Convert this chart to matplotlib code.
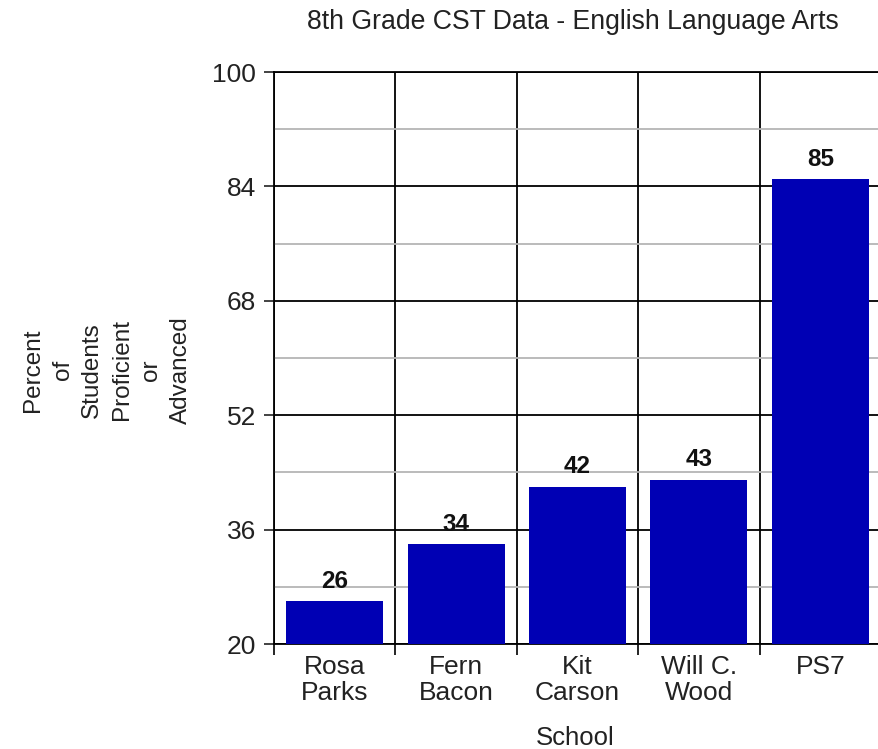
import numpy as np
import matplotlib.pyplot as plt
from matplotlib.ticker import FixedLocator, NullFormatter

# data
schools = ["Rosa\nParks", "Fern\nBacon", "Kit\nCarson", "Will C.\nWood", "PS7"]
percent = [26, 34, 42, 43, 85]
y_major = [20, 36, 52, 68, 84, 100]
y_minor = [28, 44, 60, 76, 92]

plt.rcParams['font.family'] = ['Liberation Sans', 'DejaVu Sans']

fig = plt.figure(figsize=(8.79, 7.49), dpi=100)
ax = fig.add_axes([274 / 879, 1 - 644 / 749, (881 - 274) / 879, (644 - 72) / 749])

x = np.arange(len(schools))
bars = ax.bar(x, percent, width=0.8, bottom=0, color="#0000B4", zorder=3)
ax.set_ylim(20, 100)
ax.set_xlim(-0.5, len(schools) - 0.5)

# value labels
for xi, v in zip(x, percent):
    ax.annotate(str(v), (xi, v), xytext=(0, 6), textcoords="offset points",
                ha="center", va="bottom", fontsize=17.5, fontweight="bold",
                color="#111111", zorder=4)

# y axis
ax.set_yticks(y_major)
ax.set_yticks(y_minor, minor=True)
ax.tick_params(axis="y", which="major", labelsize=19, length=7, width=1.2,
               pad=6, colors="#222222")
ax.tick_params(axis="y", which="minor", length=0)

# x axis: ticks at boundaries, labels in the middle
ax.xaxis.set_major_locator(FixedLocator(np.arange(len(schools) + 1) - 0.5))
ax.xaxis.set_major_formatter(NullFormatter())
ax.xaxis.set_minor_locator(FixedLocator(x))
ax.set_xticklabels(schools, minor=True)
ax.tick_params(axis="x", which="major", length=8, width=1.2, direction="out")
ax.tick_params(axis="x", which="minor", length=0, labelsize=19, pad=8,
               colors="#222222")
for lbl in ax.get_xticklabels(minor=True):
    lbl.set_linespacing(1.1)

# grid
ax.grid(axis="y", which="major", color="black", linewidth=1.3, zorder=1)
ax.grid(axis="y", which="minor", color="#b5b5b5", linewidth=1.3, zorder=1)
ax.grid(axis="x", which="major", color="black", linewidth=1.3, zorder=1)
ax.set_axisbelow(True)
for s in ax.spines.values():
    s.set_linewidth(1.3)

fig.text(573 / 879, 1 - 22 / 749, "8th Grade CST Data - English Language Arts",
         ha="center", va="center", fontsize=19.2, color="#222222")
fig.text(575 / 879, 1 - 738 / 749, "School", ha="center", va="center",
         fontsize=18.5, color="#222222")
fig.text(107 / 879, 1 - 370 / 749,
         "Percent\nof\nStudents\nProficient\nor\nAdvanced",
         ha="center", va="center", rotation=90, multialignment="center",
         fontsize=17.5, linespacing=1.45, color="#222222")

fig.savefig("out.png", dpi=100)
